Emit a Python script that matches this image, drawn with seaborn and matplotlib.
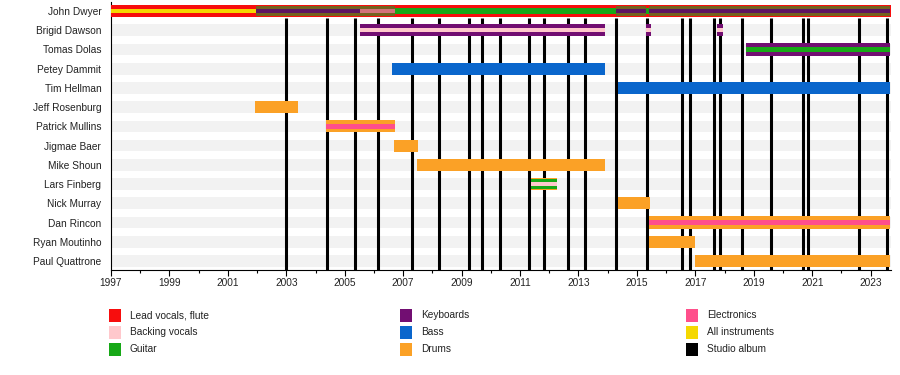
import matplotlib
matplotlib.use("Agg")
import matplotlib.pyplot as plt
from matplotlib.patches import Rectangle
import seaborn as sns

# ---------------- data ----------------
members = ["John Dwyer", "Brigid Dawson", "Tomas Dolas", "Petey Dammit", "Tim Hellman",
           "Jeff Rosenburg", "Patrick Mullins", "Jigmae Baer", "Mike Shoun", "Lars Finberg",
           "Nick Murray", "Dan Rincon", "Ryan Moutinho", "Paul Quattrone"]

roles = ["Lead vocals, flute", "Backing vocals", "Guitar", "Keyboards", "Bass", "Drums",
         "Electronics", "All instruments", "Studio album"]

timeline_start = 1997.0
timeline_end = 2023.68

# member segments (band: outer = main role, wide / inner / thin = secondary roles)
seg_member = ["John Dwyer", "John Dwyer", "John Dwyer", "John Dwyer", "John Dwyer",
              "John Dwyer", "John Dwyer", "John Dwyer", "John Dwyer", "John Dwyer",
              "John Dwyer",
              "Brigid Dawson", "Brigid Dawson", "Brigid Dawson", "Brigid Dawson",
              "Brigid Dawson", "Brigid Dawson",
              "Tomas Dolas", "Tomas Dolas",
              "Petey Dammit", "Tim Hellman", "Jeff Rosenburg",
              "Patrick Mullins", "Patrick Mullins", "Jigmae Baer", "Mike Shoun",
              "Lars Finberg", "Lars Finberg", "Lars Finberg",
              "Nick Murray", "Dan Rincon", "Dan Rincon", "Ryan Moutinho", "Paul Quattrone"]
seg_role = ["Lead vocals, flute", "All instruments", "Guitar", "Keyboards", "Electronics",
            "Guitar", "Guitar", "Keyboards", "Guitar", "Guitar", "Keyboards",
            "Keyboards", "Backing vocals", "Keyboards", "Backing vocals",
            "Keyboards", "Backing vocals",
            "Keyboards", "Guitar",
            "Bass", "Bass", "Drums",
            "Drums", "Electronics", "Drums", "Drums",
            "Drums", "Guitar", "Backing vocals",
            "Drums", "Drums", "Electronics", "Drums", "Drums"]
seg_start = [1997.0, 1997.0, 2001.97, 2001.97, 2005.53,
             2006.73, 2014.30, 2014.30, 2015.30, 2015.42, 2015.42,
             2005.53, 2005.53, 2015.30, 2015.30, 2017.75, 2017.75,
             2018.75, 2018.75,
             2006.62, 2014.36, 2001.93,
             2004.36, 2004.36, 2006.70, 2007.48,
             2011.38, 2011.38, 2011.38,
             2014.37, 2015.42, 2015.42, 2015.42, 2016.98]
seg_end = [2023.68, 2001.97, 2006.73, 2005.53, 2006.73,
           2014.30, 2015.30, 2015.30, 2015.42, 2023.68, 2023.68,
           2013.92, 2013.92, 2015.48, 2015.48, 2017.95, 2017.95,
           2023.68, 2023.68,
           2013.92, 2023.68, 2003.39,
           2006.73, 2006.73, 2007.52, 2013.92,
           2012.26, 2012.26, 2012.26,
           2015.46, 2023.68, 2023.68, 2017.00, 2023.68]
seg_band = ["outer", "thin", "wide", "thin", "thin",
            "inner", "wide", "thin", "inner", "wide", "thin",
            "outer", "thin", "outer", "thin", "outer", "thin",
            "outer", "inner",
            "outer", "outer", "outer",
            "outer", "inner", "outer", "outer",
            "outer", "wide", "thin",
            "outer", "outer", "inner", "outer", "outer"]

studio_albums = [2003.0, 2004.4, 2005.35, 2006.15, 2007.3, 2008.23, 2009.27, 2009.71,
                 2010.31, 2011.3, 2011.82, 2012.65, 2013.24, 2014.3, 2015.33, 2016.56,
                 2016.83, 2017.64, 2017.83, 2018.6, 2019.59, 2020.67, 2020.84,
                 2022.61, 2023.56]

tick_years = list(range(1997, 2024, 2))

# ---------------- style ----------------
role_colors = {
    "Lead vocals, flute": "#f70d0d",
    "Backing vocals": "#ffc8cc",
    "Guitar": "#17a817",
    "Keyboards": "#720e72",
    "Bass": "#0a66cc",
    "Drums": "#fba126",
    "Electronics": "#ff4f8b",
    "All instruments": "#f5d800",
    "Studio album": "#000000",
}
# blended look of the wide stripes on the lead-vocals bar
wide_colors = {"Guitar": "#74621e"}
john_inner_over_wide = {"Electronics": "#d4727a", "Keyboards": "#5e1462"}
band_height = {"outer": 0.635, "wide": 0.52, "inner": 0.29, "thin": 0.2}
band_z = {"outer": 3, "wide": 4, "inner": 5, "thin": 6}

sns.set_theme(style="white")
plt.rcParams["font.family"] = ["Liberation Sans", "DejaVu Sans"]

W, H = 900, 375
fig = plt.figure(figsize=(W / 100, H / 100), dpi=100)
ax_left, ax_right, ax_top, ax_bottom = 111, 890.5, 2, 270
ax = fig.add_axes([ax_left / W, 1 - ax_bottom / H, (ax_right - ax_left) / W,
                   (ax_bottom - ax_top) / H])

n = len(members)
ypos = {m: i for i, m in enumerate(members)}
row_px = 19.23
pad_rows = 9 / row_px
ax.set_xlim(timeline_start, timeline_end)
ax.set_ylim(n - 1 + pad_rows, -pad_rows)

# background stripes
ax.barh(list(range(n)), [timeline_end - timeline_start] * n, left=timeline_start,
        height=0.61, color="#f2f2f2", zorder=0, linewidth=0)

# studio albums
ax.vlines(studio_albums, ymin=0.35, ymax=n - 1 + pad_rows, color="black",
          linewidth=2.2, zorder=1)

# member bars
wide_spans = []
for m, r, s, e, b in zip(seg_member, seg_role, seg_start, seg_end, seg_band):
    if b == "wide" and m == "John Dwyer":
        wide_spans.append((s, e))
for m, r, s, e, b in zip(seg_member, seg_role, seg_start, seg_end, seg_band):
    color = role_colors[r]
    if m == "John Dwyer":
        if b == "wide":
            color = wide_colors.get(r, color)
        elif b == "thin" and any(ws <= s + 1e-6 and e <= we + 1e-6 for ws, we in wide_spans):
            color = john_inner_over_wide.get(r, color)
    h = band_height[b]
    if m == "John Dwyer" and b == "outer":
        h = 0.66
    ax.barh(ypos[m], e - s, left=s, height=h, color=color, zorder=band_z[b],
            linewidth=0)

# axes styling
for side in ["top", "right"]:
    ax.spines[side].set_visible(False)
for side in ["left", "bottom"]:
    ax.spines[side].set_color("black")
    ax.spines[side].set_linewidth(0.8)
ax.set_xticks(tick_years)
ax.set_xticklabels([str(y) for y in tick_years])
ax.set_xticks(list(range(1997, 2024)), minor=True)
ax.tick_params(axis="x", which="major", length=4, width=0.8, color="black",
               direction="out", pad=1.5, labelsize=7.3, labelcolor="#222222", bottom=True)
ax.tick_params(axis="x", which="minor", length=2, width=0.8, color="black",
               direction="out", bottom=True)
ax.set_yticks(list(range(n)))
ax.set_yticklabels(members)
ax.tick_params(axis="y", length=0, pad=7, labelsize=7.3, labelcolor="#222222")
ax.grid(False)
ax.set_facecolor("white")

# legend
col_x = [109, 400, 686]
row_y = [315, 332, 349]
for i, r in enumerate(roles):
    c, rr = divmod(i, 3)
    x0, yc = col_x[c], row_y[rr]
    fig.add_artist(Rectangle((x0 / W, 1 - (yc + 6.5) / H), 12 / W, 13 / H,
                             transform=fig.transFigure, facecolor=role_colors[r],
                             edgecolor="none"))
    fig.text((x0 + 21) / W, 1 - yc / H, r, fontsize=7.3, color="#222222",
             va="center", ha="left")

fig.savefig("out.png", dpi=100)
